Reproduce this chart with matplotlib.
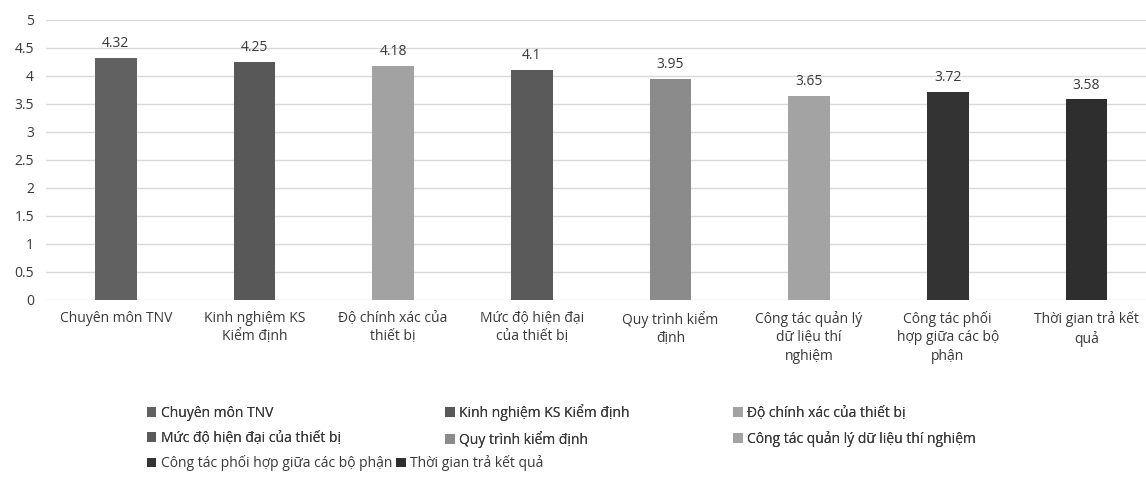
import matplotlib.pyplot as plt
from matplotlib.patches import Patch

plt.rcParams['font.family'] = ['Open Sans', 'DejaVu Sans']

categories = [
    "Chuyên môn TNV",
    "Kinh nghiệm KS Kiểm định",
    "Độ chính xác của thiết bị",
    "Mức độ hiện đại của thiết bị",
    "Quy trình kiểm định",
    "Công tác quản lý dữ liệu thí nghiệm",
    "Công tác phối hợp giữa các bộ phận",
    "Thời gian trả kết quả",
]
tick_labels = [
    "Chuyên môn TNV",
    "Kinh nghiệm KS\nKiểm định",
    "Độ chính xác của\nthiết bị",
    "Mức độ hiện đại\ncủa thiết bị",
    "Quy trình kiểm\nđịnh",
    "Công tác quản lý\ndữ liệu thí\nnghiệm",
    "Công tác phối\nhợp giữa các bộ\nphận",
    "Thời gian trả kết\nquả",
]
scores = [4.32, 4.25, 4.18, 4.1, 3.95, 3.65, 3.72, 3.58]
colors = ['#616161', '#585858', '#a2a2a2', '#5a5a5a',
          '#8b8b8b', '#a3a3a3', '#333333', '#2e2e2e']

text_color = '#383838'

fig = plt.figure(figsize=(11.46, 4.87), dpi=100)
ax = fig.add_axes([0.0405, 0.384, 0.968, 0.575])

x = range(len(categories))
bars = ax.bar(x, scores, width=0.30, color=colors, zorder=3)

for b, v in zip(bars, scores):
    ax.annotate(f"{v:g}", (b.get_x() + b.get_width() / 2, v),
                xytext=(0, 5), textcoords='offset points',
                ha='center', va='bottom', fontsize=10, color=text_color)

ax.set_ylim(0, 5)
ax.set_xlim(-0.5, len(categories) - 0.5)
ax.set_yticks([0, 0.5, 1, 1.5, 2, 2.5, 3, 3.5, 4, 4.5, 5])
ax.set_yticklabels(['0', '0.5', '1', '1.5', '2', '2.5', '3', '3.5', '4', '4.5', '5'])
ax.set_xticks(list(x))
ax.set_xticklabels(tick_labels, linespacing=1.3)
ax.tick_params(axis='both', length=0, labelsize=10, colors=text_color)
ax.tick_params(axis='y', pad=9)
ax.tick_params(axis='x', pad=8)
ax.yaxis.grid(True, color='#d9d9d9', linewidth=1)
ax.set_axisbelow(True)
for s in ax.spines.values():
    s.set_visible(False)

handles = [Patch(facecolor=c, edgecolor='none', label=l)
           for c, l in zip(colors, categories)]

# first two legend rows: three columns, filled row by row
order = [0, 3, 1, 4, 2, 5]
leg1 = fig.legend([handles[i] for i in order], [categories[i] for i in order],
                  ncol=3, loc='upper left', bbox_to_anchor=(0.122, 0.185),
                  frameon=False, fontsize=10, labelcolor=text_color,
                  handlelength=0.7, handleheight=0.7, handletextpad=0.3,
                  columnspacing=7.5, labelspacing=0.7, borderpad=0)
fig.add_artist(leg1)

# last legend row sits right after its first entry
fig.legend(handles[6:], categories[6:], ncol=2, loc='upper left',
           bbox_to_anchor=(0.122, 0.079), frameon=False, fontsize=10,
           labelcolor=text_color, handlelength=0.7, handleheight=0.7,
           handletextpad=0.3, columnspacing=0.3, borderpad=0)

fig.savefig('out.png', dpi=100)
